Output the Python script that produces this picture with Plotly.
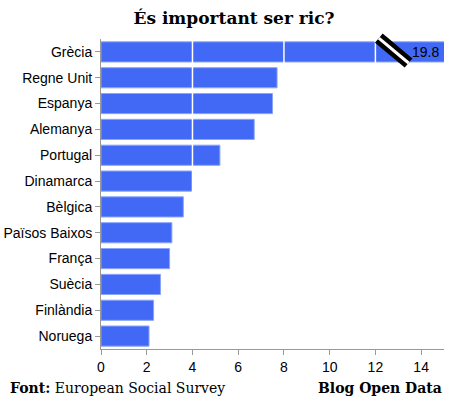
import plotly.graph_objects as go

countries = ["Grècia", "Regne Unit", "Espanya", "Alemanya", "Portugal", "Dinamarca",
             "Bèlgica", "Països Baixos", "França", "Suècia", "Finlàndia", "Noruega"]
values = [19.8, 7.7, 7.5, 6.7, 5.2, 4.0, 3.6, 3.1, 3.0, 2.6, 2.3, 2.1]
x_max = 15
x_ticks = [0, 2, 4, 6, 8, 10, 12, 14]
grid_vals = [4, 8, 12]

BLUE = "#4169f5"
PLOT_W, PLOT_H = 343, 310

fig = go.Figure(go.Bar(
    x=values, y=countries, orientation="h",
    marker=dict(color=BLUE, line=dict(color="#8aa4ff", width=1)),
    hoverinfo="skip",
))

shapes = []
for g in grid_vals:
    shapes.append(dict(type="line", xref="x", yref="paper", x0=g, x1=g, y0=0, y1=1,
                       line=dict(color="white", width=1.5), layer="above"))

# axis-break marker on the truncated bar
brk = dict(type="line", xref="x", yref="paper", x0=12.15, x1=13.45,
           y0=1.003, y1=1 - 24 / PLOT_H, layer="above")
shapes.append(dict(brk, line=dict(color="black", width=12)))
shapes.append(dict(brk, line=dict(color="white", width=3)))

serif = "DejaVu Serif, Liberation Serif, serif"
sans = "Liberation Sans, Arial, sans-serif"

fig.update_layout(
    width=457, height=408,
    margin=dict(l=101, r=13, t=39, b=59, autoexpand=False),
    paper_bgcolor="white", plot_bgcolor="white",
    bargap=0.22,
    showlegend=False,
    shapes=shapes,
    title=dict(text="<b>És important ser ric?</b>", x=234 / 457, xanchor="center",
               y=1 - 18 / 408, yanchor="middle", xref="container",
               font=dict(family=serif, size=17, color="black")),
    xaxis=dict(range=[0, x_max], tickvals=x_ticks, showgrid=False, zeroline=False,
               showline=True, linecolor="#999999", linewidth=1, automargin=False,
               ticks="outside", ticklen=5, tickcolor="#999999",
               tickfont=dict(family=sans, size=14, color="black")),
    yaxis=dict(categoryorder="array", categoryarray=countries[::-1],
               showgrid=False, zeroline=False, automargin=False,
               showline=True, linecolor="#999999", linewidth=1,
               ticks="outside", ticklen=5, tickcolor="#999999",
               tickfont=dict(family=sans, size=14, color="black")),
    annotations=[
        dict(text=f"{values[0]}", x=x_max, y=countries[0], xref="x", yref="y",
             xanchor="right", yanchor="middle", xshift=-3, showarrow=False,
             font=dict(family=sans, size=14, color="black")),
        dict(text="<b>Font:</b> European Social Survey", x=-93 / PLOT_W, y=-39 / PLOT_H,
             xref="paper", yref="paper",
             xanchor="left", yanchor="middle", showarrow=False,
             font=dict(family=serif, size=14, color="black")),
        dict(text="<b>Blog Open Data</b>", x=1, y=-39 / PLOT_H, xref="paper", yref="paper",
             xanchor="right", yanchor="middle", showarrow=False,
             font=dict(family=serif, size=14, color="black")),
    ],
)

fig.write_html("out.html", config={"displayModeBar": False},
               post_script="document.body.style.margin='0';")
